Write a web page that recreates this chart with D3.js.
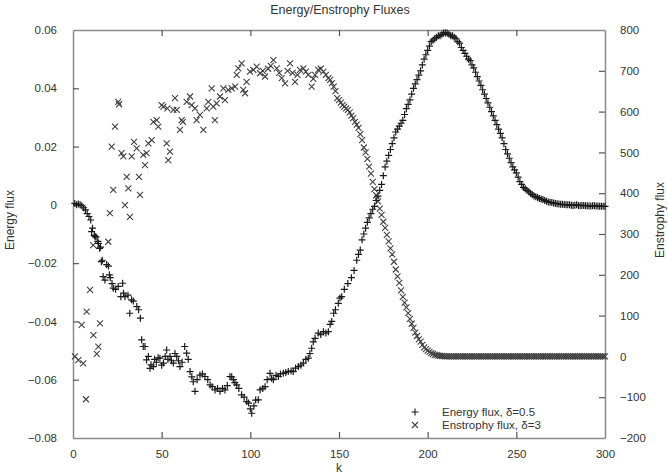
<!DOCTYPE html>
<html>
<head>
<meta charset="utf-8">
<script src="https://cdn.jsdelivr.net/npm/d3@7"></script>
<style>
  body { margin: 0; background: #fff; }
  text { font-family: "Liberation Sans", Arial, sans-serif; fill: #333; }
</style>
</head>
<body>
<svg id="chart" width="668" height="474"></svg>
<script>
// ticks
var xTicks = [0, 50, 100, 150, 200, 250, 300];
var leftTicks = [-0.08, -0.06, -0.04, -0.02, 0, 0.02, 0.04, 0.06];
var rightTicks = [-200, -100, 0, 100, 200, 300, 400, 500, 600, 700, 800];
var legendLabels = ["Energy flux, \u03b4=0.5", "Enstrophy flux, \u03b4=3"];

// energy flux [k, value]  (left axis)
var energyFlux = [
  [1,0.0005],[2,0],[3,0.0003],[4,0],[5,-0.0003],[6,-0.001],[7,-0.0017],[8,-0.003],[9,-0.004],[10,-0.0052],
  [10.5,-0.0092],[11,-0.008],[12,-0.0105],[12.5,-0.0109],[13,-0.011],[14,-0.0125],[14.3,-0.0132],[15,-0.0149],
  [15.5,-0.0145],[16,-0.0195],[16.5,-0.019],[17,-0.0246],[18,-0.0258],[19,-0.0205],[20,-0.021],[20.5,-0.024],
  [21,-0.025],[22,-0.027],[22.7,-0.0286],[24,-0.029],[25.5,-0.028],[27,-0.0315],[28,-0.0269],[28.5,-0.0303],
  [29.3,-0.0315],[31,-0.031],[32,-0.0372],[33,-0.0326],[34,-0.033],[36,-0.0349],[37,-0.036],[38,-0.0389],
  [38.7,-0.0463],[39.6,-0.0486],[40.6,-0.0486],[41.5,-0.0532],[42.5,-0.052],[43.4,-0.0561],[44,-0.0549],
  [45.3,-0.0555],[46,-0.053],[47,-0.054],[48,-0.0525],[49,-0.0526],[50,-0.055],[51,-0.0543],[52,-0.052],
  [52.8,-0.0498],[53.5,-0.053],[54.7,-0.052],[55.5,-0.0535],[56.6,-0.0543],[57.5,-0.051],[58.5,-0.052],
  [59.5,-0.0535],[60.3,-0.0555],[61.5,-0.054],[63,-0.0486],[64.1,-0.0509],[65,-0.053],[66,-0.0572],[67,-0.059],
  [67.8,-0.0607],[68.8,-0.064],[70,-0.06],[71.6,-0.0584],[73,-0.058],[74.4,-0.0589],[76,-0.06],[77.3,-0.0618],
  [78.5,-0.0624],[80.1,-0.0635],[81.5,-0.063],[82.9,-0.064],[84.3,-0.063],[85.7,-0.0635],[87,-0.062],
  [88.5,-0.0589],[89.5,-0.059],[90.4,-0.06],[91.3,-0.061],[92.3,-0.0618],[93.5,-0.063],[95.1,-0.0652],
  [96.5,-0.066],[98,-0.0675],[99,-0.068],[100,-0.07],[100.8,-0.0715],[102,-0.069],[103,-0.067],[104.5,-0.0669],
  [105.5,-0.0635],[107,-0.063],[108.3,-0.0624],[109.5,-0.06],[111.1,-0.0578],[112,-0.0595],[113,-0.06],
  [114.5,-0.0585],[115.8,-0.0589],[117,-0.058],[118.6,-0.0578],[120,-0.0575],[121.4,-0.0572],[123,-0.057],
  [124.2,-0.0572],[125.5,-0.056],[127.1,-0.0555],[128.5,-0.055],[129.9,-0.0543],[131.3,-0.053],[132.7,-0.0526],
  [133.6,-0.051],[134.6,-0.0492],[135.5,-0.047],[136.5,-0.0458],[138.3,-0.044],[139.7,-0.0445],[141.2,-0.0435],
  [142.6,-0.044],[144,-0.0435],[145,-0.041],[145.9,-0.04],[147,-0.0372],[148,-0.036],[149.6,-0.0338],
  [150.5,-0.032],[151.5,-0.0315],[153,-0.029],[155,-0.027],[157,-0.025],[158.5,-0.0225],[160,-0.019],
  [161,-0.017],[162,-0.0155],[163,-0.012],[164,-0.010],[165,-0.008],[166,-0.006],[167,-0.0045],[168,-0.003],
  [169,-0.0015],[170,-0.0005],[171,0.0015],[172,0.003],[173,0.005],[174,0.007],[175,0.010],[176,0.013],
  [177,0.015],[178,0.017],[179,0.019],[180,0.021],[181,0.023],[182,0.025],[183,0.026],[184,0.027],[185,0.028],
  [186,0.029],[187,0.031],[188,0.033],[189,0.0345],[190,0.036],[191,0.038],[192,0.040],[193,0.0415],
  [194,0.043],[195,0.0445],[196,0.046],[197,0.048],[198,0.050],[199,0.0515],[200,0.053],[201,0.0545],
  [202,0.056],[203,0.0565],[204,0.057],[205,0.0575],[206,0.058],[207,0.058],[208,0.0585],[209,0.059],
  [210,0.059],[211,0.059],[212,0.0585],[213,0.058],[214,0.058],[215,0.0575],[216,0.057],[217,0.056],
  [218,0.0555],[219,0.054],[220,0.053],[221,0.052],[222,0.051],[223,0.050],[224,0.0495],[225,0.048],
  [226,0.047],[227,0.0455],[228,0.044],[229,0.0425],[230,0.041],[231,0.0395],[232,0.038],[233,0.0365],
  [234,0.035],[235,0.0335],[236,0.032],[237,0.0305],[238,0.029],[239,0.0275],[240,0.026],[241,0.0245],
  [242,0.023],[243,0.021],[244,0.019],[245,0.0175],[246,0.016],[247,0.0145],[248,0.013],[249,0.012],
  [250,0.011],[251,0.0095],[252,0.008],[253,0.007],[254,0.006],[255,0.0055],[256,0.005],[257,0.0045],
  [258,0.004],[259,0.0035],[260,0.003],[261,0.0028],[262,0.0025],[263,0.0022],[264,0.002],[265,0.0018],
  [266,0.0015],[267,0.0012],[268,0.001],[269,0.0009],[270,0.0008],[271,0.0006],[272,0.0005],[273,0.0004],
  [274,0.0003],[275,0.0002],[276,0.0002],[277,0.0001],[278,0],[279,0],[280,0],[281,-0.0001],[282,-0.0002],
  [283,-0.0001],[284,0],[285,-0.0002],[286,-0.0003],[287,-0.0002],[288,-0.0002],[289,-0.0003],[290,-0.0003],
  [291,-0.0004],[292,-0.0004],[293,-0.0003],[294,-0.0003],[295,-0.0004],[296,-0.0004],[297,-0.0005],
  [298,-0.0005],[299,-0.0005],[300,-0.0005]
];

// enstrophy flux [k, value]  (right axis)
var enstrophyFlux = [
  [1.1,0],[3,-9],[4.9,77],[5.8,-17],[7.3,-105],[7.7,110],[9.6,163],[11.4,273],[11.5,52],[13.4,6],[14.3,24],
  [15.2,81],[19.9,281],[20.8,351],[21.8,514],[22.7,408],[23.7,563],[25.5,624],[26,618],[27.4,498],[28.4,490],
  [29.3,371],[30.3,440],[31.2,412],[32.1,342],[33.1,490],[34.4,526],[35.9,510],[37.2,440],[37.8,396],
  [39.6,494],[40.6,469],[41.5,498],[42.5,522],[44.4,530],[45.3,575],[47.2,579],[48.1,563],[50,616],[51,612],
  [52.8,522],[53.2,608],[53.7,481],[54.7,502],[56.6,604],[57.5,633],[58.5,604],[60.3,555],[61.3,579],[62,575],
  [64.1,624],[66,637],[66.9,616],[68.8,608],[69.7,579],[71.6,592],[73.5,555],[75.4,608],[76.3,624],[78.2,657],
  [79.1,612],[80,579],[81,620],[82.9,637],[84.8,657],[85.7,628],[87.6,653],[89.5,657],[91.4,661],[92.3,690],
  [93.2,706],[95.1,718],[96,653],[97,645],[97.9,673],[99.8,698],[101.7,702],[103.6,710],[105.5,694],[107,700],
  [108.3,686],[110,705],[111.5,712],[113,726],[114.9,706],[116.3,695],[117.7,682],[119.6,669],[121,700],
  [122.4,718],[123.8,695],[125.2,673],[126.6,690],[128,702],[129.9,706],[131.3,698],[132.7,690],[134.6,661],
  [135.5,680],[136.5,690],[138.3,702],[139.7,705],[141.2,698],[142.6,690],[144,682],[145,678],[146,670],
  [147,661],[148,650],[149,633],[150,628],[151,622],[152,616],[153,612],[154,608],[155,604],[156,598],
  [157,590],[158,584],[159,575],[160,568],[161,560],[162,545],[163,530],[164,512],[165,500],[166,484],
  [167,465],[168,448],[169,428],[170,410],[171,395],[172,380],[173,362],[174,347],[175,330],[176,315],
  [177,298],[178,282],[179,265],[180,250],[181,232],[182,213],[183,196],[184,180],[185,162],[186,146],
  [187,132],[188,120],[189,106],[190,92],[191,80],[192,70],[193,58],[194,50],[195,42],[196,36],[197,28],
  [198,22],[199,18],[200,14],[201,11],[202,8],[203,6],[204,4],[205,3],[206,2],[207,1.5],[208,1],[209,0.5],
  [210,0],[211,0],[212,0],[213,0],[214,0],[215,0],[216,0],[217,0],[218,0],[219,0],[220,0],[221,0],[222,0],
  [223,0],[224,0],[225,0],[226,0],[227,0],[228,0],[229,0],[230,0],[231,0],[232,0],[233,0],[234,0],[235,0],
  [236,0],[237,0],[238,0],[239,0],[240,0],[241,0],[242,0],[243,0],[244,0],[245,0],[246,0],[247,0],[248,0],
  [249,0],[250,0],[251,0],[252,0],[253,0],[254,0],[255,0],[256,0],[257,0],[258,0],[259,0],[260,0],[261,0],
  [262,0],[263,0],[264,0],[265,0],[266,0],[267,0],[268,0],[269,0],[270,0],[271,0],[272,0],[273,0],[274,0],
  [275,0],[276,0],[277,0],[278,0],[279,0],[280,0],[281,0],[282,0],[283,0],[284,0],[285,0],[286,0],[287,0],
  [288,0],[289,0],[290,0],[291,0],[292,0],[293,0],[294,0],[295,0],[296,0],[297,0],[298,0],[299,0],[300,0]
];

var margin = {top: 30, right: 63, bottom: 36, left: 73},
    width = 668 - margin.left - margin.right,
    height = 474 - margin.top - margin.bottom;

var svg = d3.select("#chart");
var g = svg.append("g").attr("transform", "translate(" + margin.left + "," + margin.top + ")");

var x = d3.scaleLinear().domain([0, 300]).range([0, width]);
var yL = d3.scaleLinear().domain([-0.08, 0.06]).range([height, 0]);
var yR = d3.scaleLinear().domain([-200, 800]).range([height, 0]);

var tickLen = 6;
var frameColor = "#8a8a8a";

// axes, gnuplot style (ticks pointing inward)
var xAxisB = g.append("g").attr("transform", "translate(0," + height + ")")
    .call(d3.axisBottom(x).tickValues(xTicks).tickSizeInner(-tickLen).tickSizeOuter(0).tickPadding(tickLen + 6));
var xAxisT = g.append("g")
    .call(d3.axisTop(x).tickValues(xTicks).tickSizeInner(-tickLen).tickSizeOuter(0).tickFormat(""));
var yAxisL = g.append("g")
    .call(d3.axisLeft(yL).tickValues(leftTicks).tickSizeInner(-tickLen).tickSizeOuter(0).tickPadding(tickLen + 10)
      .tickFormat(function(d) { return d === 0 ? "0" : d3.format(".2f")(d); }));
var yAxisR = g.append("g").attr("transform", "translate(" + width + ",0)")
    .call(d3.axisRight(yR).tickValues(rightTicks).tickSizeInner(-tickLen).tickSizeOuter(0).tickPadding(tickLen + 9));

[xAxisB, xAxisT, yAxisL, yAxisR].forEach(function(a) {
  a.select(".domain").attr("stroke", frameColor).attr("stroke-width", 1.5);
  a.selectAll(".tick line").attr("stroke", "#555").attr("stroke-width", 1.2);
  a.selectAll(".tick text").style("font-size", "11.5px").attr("fill", "#333")
    .style("font-family", "'Liberation Sans', Arial, sans-serif");
});
// hide end ticks that sit on the frame corners
[xAxisB, xAxisT].forEach(function(a) {
  a.selectAll(".tick line").filter(function(d) { return d === 0 || d === 300; }).remove();
});
yAxisL.selectAll(".tick line").filter(function(d) { return d === -0.08 || d === 0.06; }).remove();
yAxisR.selectAll(".tick line").filter(function(d) { return d === -200 || d === 800; }).remove();

// markers
var plusPath = "M-3.5,0H3.5M0,-3.5V3.5";
var crossPath = "M-3,-3L3,3M-3,3L3,-3";

g.append("g").selectAll("path")
    .data(enstrophyFlux)
  .enter().append("path")
    .attr("d", crossPath)
    .attr("transform", function(d) { return "translate(" + x(d[0]) + "," + yR(d[1]) + ")"; })
    .attr("stroke", "#404040")
    .attr("stroke-width", 1.1)
    .attr("fill", "none");

g.append("g").selectAll("path")
    .data(energyFlux)
  .enter().append("path")
    .attr("d", plusPath)
    .attr("transform", function(d) { return "translate(" + x(d[0]) + "," + yL(d[1]) + ")"; })
    .attr("stroke", "#1a1a1a")
    .attr("stroke-width", 1.2)
    .attr("fill", "none");

// title and labels
svg.append("text").attr("x", 340).attr("y", 14).attr("text-anchor", "middle")
    .style("font-size", "12.5px").text("Energy/Enstrophy Fluxes");
svg.append("text").attr("x", margin.left + width / 2).attr("y", 472).attr("text-anchor", "middle")
    .style("font-size", "12px").text("k");
svg.append("text").attr("transform", "translate(14,220) rotate(-90)").attr("text-anchor", "middle")
    .style("font-size", "12px").text("Energy flux");
svg.append("text").attr("transform", "translate(664,220) rotate(-90)").attr("text-anchor", "middle")
    .style("font-size", "12px").text("Enstrophy flux");

// legend
var legend = svg.append("g").attr("transform", "translate(415,412)");
var legendMarks = [plusPath, crossPath];
legendLabels.forEach(function(lab, i) {
  legend.append("path").attr("d", legendMarks[i])
      .attr("transform", "translate(0," + (i * 13) + ")")
      .attr("stroke", i === 0 ? "#1a1a1a" : "#404040").attr("stroke-width", 1.1).attr("fill", "none");
  legend.append("text").attr("x", 27).attr("y", i * 13).attr("dy", "0.35em")
      .style("font-size", "11.5px").attr("fill", "#333").text(lab);
});
</script>
</body>
</html>
